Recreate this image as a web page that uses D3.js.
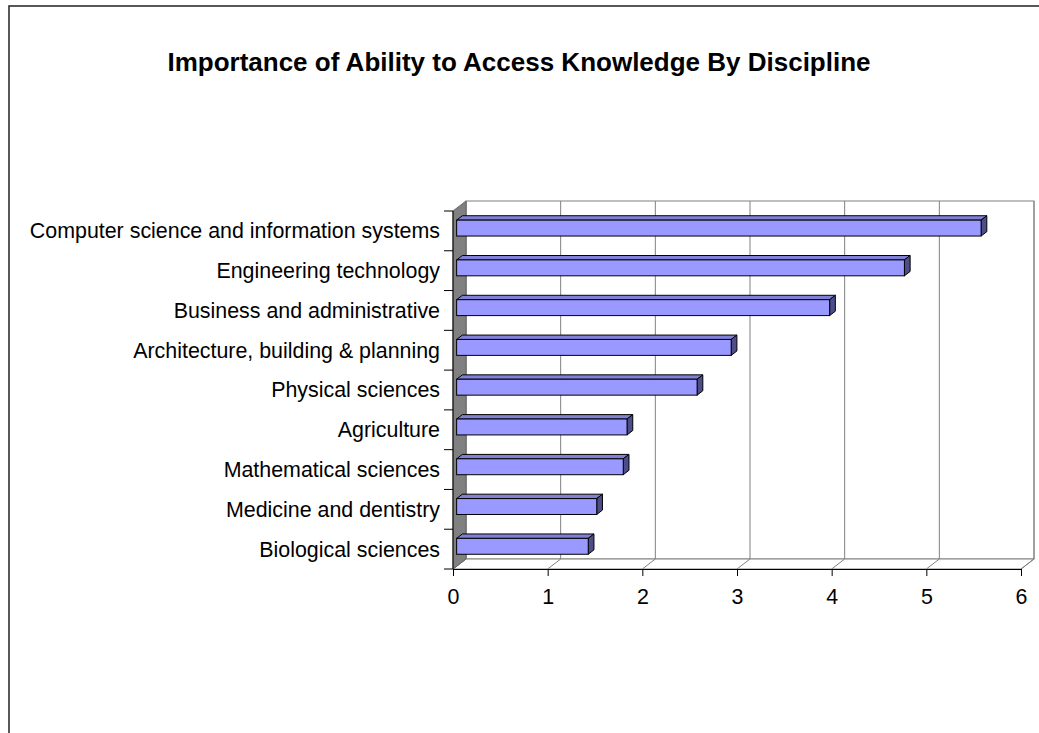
<!DOCTYPE html>
<html>
<head>
<meta charset="utf-8">
<script src="https://cdn.jsdelivr.net/npm/d3@7"></script>
<style>
  html, body { margin: 0; padding: 0; background: #fff; }
  svg { display: block; font-family: "Liberation Sans", Arial, sans-serif; }
</style>
</head>
<body>
<svg id="chart" width="1039" height="733"></svg>
<script>
// Disciplines, listed top to bottom
const categories = [
  "Computer science and information systems",
  "Engineering technology",
  "Business and administrative",
  "Architecture, building & planning",
  "Physical sciences",
  "Agriculture",
  "Mathematical sciences",
  "Medicine and dentistry",
  "Biological sciences"
];
// Mean importance score per discipline
const values = [5.54, 4.73, 3.94, 2.9, 2.54, 1.8, 1.76, 1.48, 1.39];
const xTicks = [0, 1, 2, 3, 4, 5, 6];
const title = "Importance of Ability to Access Knowledge By Discipline";

const svg = d3.select("#chart");

// Outer chart frame
svg.append("rect")
  .attr("x", 9).attr("y", 6).attr("width", 1040).attr("height", 760)
  .attr("fill", "#fff").attr("stroke", "#222").attr("stroke-width", 1.5);

svg.append("text")
  .attr("x", 519).attr("y", 71)
  .attr("text-anchor", "middle")
  .attr("font-size", 26).attr("font-weight", "bold")
  .text(title);

// Front plane of the 3-D plot and the depth offset of the back plane
const x = d3.scaleLinear().domain([0, 6]).range([453, 1021]);
const y = d3.scaleBand().domain(categories).range([211, 569])
  .paddingInner(0.6).paddingOuter(0.3);
const DX = 13, DY = -10;
const plotTop = 211, plotBottom = 569;

const pts = p => p.map(d => d.join(",")).join(" ");
const grid = "#808080";

// Back wall
svg.append("rect")
  .attr("x", x(0) + DX).attr("y", plotTop + DY)
  .attr("width", x(6) - x(0)).attr("height", plotBottom - plotTop)
  .attr("fill", "#fff").attr("stroke", grid).attr("stroke-width", 1);

// Floor
svg.append("polygon")
  .attr("points", pts([[x(0), plotBottom], [x(6), plotBottom], [x(6) + DX, plotBottom + DY], [x(0) + DX, plotBottom + DY]]))
  .attr("fill", "#fff").attr("stroke", grid).attr("stroke-width", 1);

// Gridlines: vertical on the back wall, diagonal across the floor
svg.append("g").selectAll("line").data(xTicks).join("line")
  .attr("x1", d => x(d) + DX).attr("x2", d => x(d) + DX)
  .attr("y1", plotTop + DY).attr("y2", plotBottom + DY)
  .attr("stroke", grid).attr("stroke-width", 1);
svg.append("g").selectAll("line").data(xTicks).join("line")
  .attr("x1", d => x(d)).attr("x2", d => x(d) + DX)
  .attr("y1", plotBottom).attr("y2", plotBottom + DY)
  .attr("stroke", grid).attr("stroke-width", 1);

// Left wall (grey)
svg.append("polygon")
  .attr("points", pts([[x(0), plotTop], [x(0) + DX, plotTop + DY], [x(0) + DX, plotBottom + DY], [x(0), plotBottom]]))
  .attr("fill", "#808080").attr("stroke", "#666").attr("stroke-width", 1);

// Bars drawn as boxes: front face, top face, end face
const f0 = 0.28, f1 = 0.72;
const bars = svg.append("g").selectAll("g").data(categories.map((c, i) => ({ c, v: values[i] })))
  .join("g");
bars.each(function (d) {
  const sel = d3.select(this);
  const x0 = x(0) + f0 * DX, x1 = x(d.v) + f0 * DX;
  const y0 = y(d.c) + f0 * DY, y1 = y0 + y.bandwidth();
  const ddx = (f1 - f0) * DX, ddy = (f1 - f0) * DY;
  sel.append("polygon")
    .attr("points", pts([[x0, y0], [x0 + ddx, y0 + ddy], [x1 + ddx, y0 + ddy], [x1, y0]]))
    .attr("fill", "#8080d6").attr("stroke", "#000").attr("stroke-width", 1).attr("stroke-linejoin", "round");
  sel.append("polygon")
    .attr("points", pts([[x1, y0], [x1 + ddx, y0 + ddy], [x1 + ddx, y1 + ddy], [x1, y1]]))
    .attr("fill", "#4d4d8a").attr("stroke", "#000").attr("stroke-width", 1).attr("stroke-linejoin", "round");
  sel.append("rect")
    .attr("x", x0).attr("y", y0).attr("width", x1 - x0).attr("height", y1 - y0)
    .attr("fill", "#9999ff").attr("stroke", "#000").attr("stroke-width", 1);
});

// Category axis: line, boundary ticks, labels
const boundaries = d3.range(categories.length + 1).map(i => plotTop + i * y.step());
svg.append("line")
  .attr("x1", x(0)).attr("x2", x(0)).attr("y1", plotTop).attr("y2", plotBottom)
  .attr("stroke", "#000").attr("stroke-width", 1);
svg.append("g").selectAll("line").data(boundaries).join("line")
  .attr("x1", x(0) - 9).attr("x2", x(0))
  .attr("y1", d => d).attr("y2", d => d)
  .attr("stroke", "#000").attr("stroke-width", 1);
svg.append("g").selectAll("text").data(categories).join("text")
  .attr("x", 440)
  .attr("y", d => y(d) + y.bandwidth() / 2)
  .attr("dy", "0.35em")
  .attr("text-anchor", "end")
  .attr("font-size", 21.4)
  .text(d => d);

// Value axis along the front edge of the floor
const xAxis = svg.append("g").attr("transform", `translate(0,${plotBottom})`)
  .call(d3.axisBottom(x).tickValues(xTicks).tickSize(7).tickPadding(13).tickFormat(d3.format("d")));
xAxis.select(".domain").attr("stroke", "#000");
xAxis.selectAll(".tick line").attr("stroke", "#000");
xAxis.selectAll(".tick text")
  .attr("font-size", 21.4).attr("fill", "#000")
  .attr("font-family", "\"Liberation Sans\", Arial, sans-serif");
</script>
</body>
</html>
